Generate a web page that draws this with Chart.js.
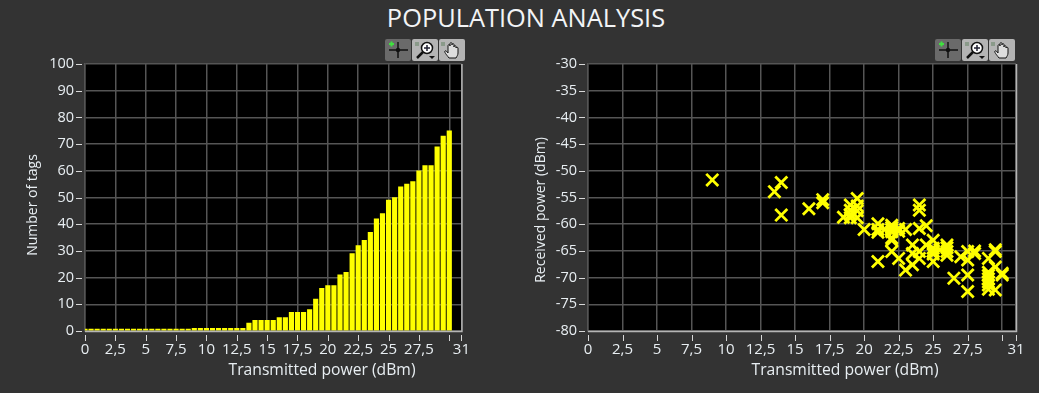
<!DOCTYPE html>
<html>
<head>
<meta charset="utf-8">
<title>Population analysis</title>
<script src="https://cdn.jsdelivr.net/npm/chart.js@4"></script>
<style>
  html, body { margin: 0; padding: 0; background: #333333; overflow: hidden; }
  #page { position: relative; width: 1039px; height: 393px; background: #333333; }
  h1 { position: absolute; left: 0; width: 1052px; top: 0; margin: 0; text-align: center;
       font: 400 25.4px "Open Sans", sans-serif; color: #f2f4f6; }
  .box { position: absolute; top: 44px; height: 349px; }
  #box1 { left: 0; width: 480px; }
  #box2 { left: 500px; width: 539px; }
  .tools { position: absolute; top: 39px; display: flex; gap: 1px; }
  .tools div { width: 26px; height: 22px; background: #b4b4b4; border-radius: 2px; }
  .tools div:first-child { background: #6a6a6a; }
  .tools svg { display: block; }
</style>
</head>
<body>
<div id="page">
  <h1>POPULATION ANALYSIS</h1>
  <div class="box" id="box1"><canvas id="tagsChart"></canvas></div>
  <div class="box" id="box2"><canvas id="powerChart"></canvas></div>
  <div class="tools" style="left:385px"></div>
  <div class="tools" style="left:935px"></div>
</div>
<script>
const txPower = [0,0.5,1,1.5,2,2.5,3,3.5,4,4.5,5,5.5,6,6.5,7,7.5,8,8.5,9,9.5,10,10.5,11,11.5,12,12.5,13,13.5,14,14.5,15,15.5,16,16.5,17,17.5,18,18.5,19,19.5,20,20.5,21,21.5,22,22.5,23,23.5,24,24.5,25,25.5,26,26.5,27,27.5,28,28.5,29,29.5,30];
const tagCounts = [0,0,0,0,0,0,0,0,0,0,0,0,0,0,0,0,0,0,1,1,1,1,1,1,1,1,1,3,4,4,4,4,5,5,7,7,7,8,12,16,17,17,21,22,29,32,34,37,42,44,49,50,54,55,56,60,62,62,69,73,75];

const scatterX = [9,13.5,14,14,16,17,17,18.5,19,19,19,19,19.5,19.5,19.5,19.5,20,21,21,21,21,21.5,22,22,22,22,22,22,22,22.5,22.5,22.5,23,23,23.5,23.5,23.5,24,24,24,24,24,24.5,24.5,25,25,25,25,25,25.5,26,26,26,26,26.5,27,27.5,27.5,27.5,27.5,28,28,29,29,29,29,29,29,29,29.5,29.5,29.5,29.5,30,30];
const scatterY = [-51.7,-53.9,-52.2,-58.3,-57.1,-55.4,-56,-58.7,-56.4,-57.4,-58.2,-58.8,-55.2,-56.6,-57.5,-58.8,-61,-59.9,-61,-61.5,-67,-61,-60.2,-60.6,-61,-61.4,-62.6,-65.1,-63,-60.8,-61.3,-66.4,-61,-68.6,-63.9,-67.6,-65.5,-56.4,-57.4,-60.8,-65.1,-66.4,-60.3,-63.9,-63,-64.5,-65.1,-65.6,-67,-64.8,-63.9,-65.1,-65.8,-64.4,-70.1,-66.1,-65.1,-66.7,-69.5,-72.6,-65.5,-65,-66.4,-69,-69.6,-70.2,-70.8,-71.4,-72.2,-65.1,-64.8,-68,-72.3,-69.5,-69.2];

const powerTicks = [0,2.5,5,7.5,10,12.5,15,17.5,20,22.5,25,27.5,30,31];
const tagTicks = [0,10,20,30,40,50,60,70,80,90,100];
const dbmTicks = [-30,-35,-40,-45,-50,-55,-60,-65,-70,-75,-80];

const xTitle = 'Transmitted power (dBm)';

const txt = '#e8eef2';
const gridCol = '#555555';
const family = '"Open Sans", sans-serif';

// LabVIEW style frame: short ticks standing off the plot, light right and bottom edge,
// axis titles are off-centre in the original so they are placed here and not by the scale
const framePlugin = {
  id: 'frame',
  afterDraw(chart, args, opts) {
    const { ctx, chartArea: a, scales } = chart;
    ctx.save();
    ctx.strokeStyle = '#d8d8d8';
    ctx.lineWidth = 1;
    ctx.beginPath();
    scales.x.ticks.forEach((t, i) => {
      const x = Math.round(scales.x.getPixelForTick(i)) + 0.5;
      ctx.moveTo(x, a.bottom + 4);
      ctx.lineTo(x, a.bottom + 10);
    });
    scales.y.ticks.forEach((t, i) => {
      const y = Math.round(scales.y.getPixelForTick(i)) + 0.5;
      ctx.moveTo(a.left - 9, y);
      ctx.lineTo(a.left - 3, y);
    });
    ctx.stroke();
    ctx.strokeStyle = '#b5b5b5';
    ctx.lineWidth = 1.5;
    ctx.beginPath();
    ctx.moveTo(a.left, a.bottom + 0.5);
    ctx.lineTo(a.right + 0.5, a.bottom + 0.5);
    ctx.lineTo(a.right + 0.5, a.top);
    ctx.stroke();

    ctx.fillStyle = txt;
    ctx.textAlign = 'center';
    ctx.textBaseline = 'middle';
    ctx.font = '15.7px ' + family;
    ctx.fillText(xTitle, opts.xTitleAt[0], opts.xTitleAt[1]);
    ctx.translate(opts.yTitleAt[0], opts.yTitleAt[1]);
    ctx.rotate(-Math.PI / 2);
    ctx.font = '14px ' + family;
    ctx.fillText(opts.yTitle, 0, 0);
    ctx.restore();
  }
};

const blackPlot = {
  id: 'blackPlot',
  beforeDraw(chart) {
    const { ctx, chartArea: a } = chart;
    ctx.fillStyle = '#000';
    ctx.fillRect(a.left, a.top, a.right - a.left, a.bottom - a.top);
  }
};

function axisX() {
  return {
    type: 'linear',
    offset: false,
    min: 0,
    max: 31,
    afterBuildTicks: s => { s.ticks = powerTicks.map(v => ({ value: v })); },
    afterFit: s => { s.height = 62; },
    grid: { color: gridCol, lineWidth: 1.5, drawTicks: false, offset: false },
    border: { color: gridCol, width: 1.5 },
    ticks: {
      color: txt, font: { family, size: 15 }, padding: 10, maxRotation: 0, autoSkip: false,
      callback: v => (v === 30 ? '' : String(v).replace('.', ','))
    }
  };
}

function axisY(min, max, list, width) {
  return {
    min,
    max,
    afterBuildTicks: s => { s.ticks = list.map(v => ({ value: v })); },
    afterFit: s => { s.width = width; },
    grid: { color: gridCol, lineWidth: 1.5, drawTicks: false },
    border: { color: gridCol, width: 1.5 },
    ticks: { color: txt, font: { family, size: 14.5 }, padding: 11, autoSkip: false }
  };
}

Chart.defaults.animation = false;
Chart.defaults.responsive = false;

function setSize(id, w, h) {
  const c = document.getElementById(id);
  c.width = w;
  c.height = h;
}

setSize('tagsChart', 480, 349);
new Chart(document.getElementById('tagsChart'), {
  type: 'bar',
  data: {
    datasets: [{
      data: txPower.map((x, i) => ({ x, y: tagCounts[i] })),
      backgroundColor: '#ffff00',
      barThickness: 4.5,
      minBarLength: 2
    }]
  },
  options: {
    layout: { padding: { top: 20, right: 16, bottom: 0, left: 25 } },
    plugins: {
      legend: { display: false },
      tooltip: { enabled: false },
      frame: { yTitle: 'Number of tags', xTitleAt: [322, 327], yTitleAt: [33, 161] }
    },
    scales: { x: axisX(), y: axisY(0, 100, tagTicks, 60) }
  },
  plugins: [blackPlot, framePlugin]
});

setSize('powerChart', 539, 349);
new Chart(document.getElementById('powerChart'), {
  type: 'scatter',
  data: {
    datasets: [{
      data: scatterX.map((x, i) => ({ x, y: scatterY[i] })),
      showLine: false,
      pointStyle: 'crossRot',
      pointRadius: 8.5,
      borderColor: '#ffff00',
      pointBorderWidth: 2.8
    }]
  },
  options: {
    layout: { padding: { top: 20, right: 23, bottom: 0, left: 34 } },
    plugins: {
      legend: { display: false },
      tooltip: { enabled: false },
      frame: { yTitle: 'Received power (dBm)', xTitleAt: [345, 327], yTitleAt: [41, 166] }
    },
    scales: { x: axisX(), y: axisY(-80, -30, dbmTicks, 54) }
  },
  plugins: [blackPlot, framePlugin]
});

// graph palette buttons
const icons = [
  '<svg width="26" height="22"><path d="M4 11H23M13 3V19" stroke="#111" stroke-width="1.5"/><circle cx="13" cy="11" r="2.2" fill="#111"/><path d="M4 5h5M6.5 2.5v5" stroke="#3fe03f" stroke-width="2"/></svg>',
  '<svg width="26" height="22"><circle cx="15" cy="9" r="5.5" fill="#fff" stroke="#111" stroke-width="1.5"/><path d="M12 9h6M15 6v6" stroke="#223" stroke-width="1.5"/><path d="M11 13l-6 6" stroke="#111" stroke-width="2.5"/><path d="M17 17h6l-3 3z" fill="#111"/><rect x="3" y="3" width="4" height="4" fill="#8a9a8a"/></svg>',
  '<svg width="26" height="22"><rect x="2" y="3" width="4" height="4" fill="#8a9a8a"/><path d="M10 19C7 15 5 13 6 12s2 1 3 2V7c0-2 2-2 2 0V5c0-2 2-2 2 0v1c0-2 2-2 2 0v2c0-2 2-2 2 0v1c0-1 2-1 2 0v5c0 2-1 3-2 5z" fill="#ddd" stroke="#111"/></svg>'
];
document.querySelectorAll('.tools').forEach(bar => {
  icons.forEach(svg => {
    const b = document.createElement('div');
    b.innerHTML = svg;
    bar.appendChild(b);
  });
});
</script>
</body>
</html>
